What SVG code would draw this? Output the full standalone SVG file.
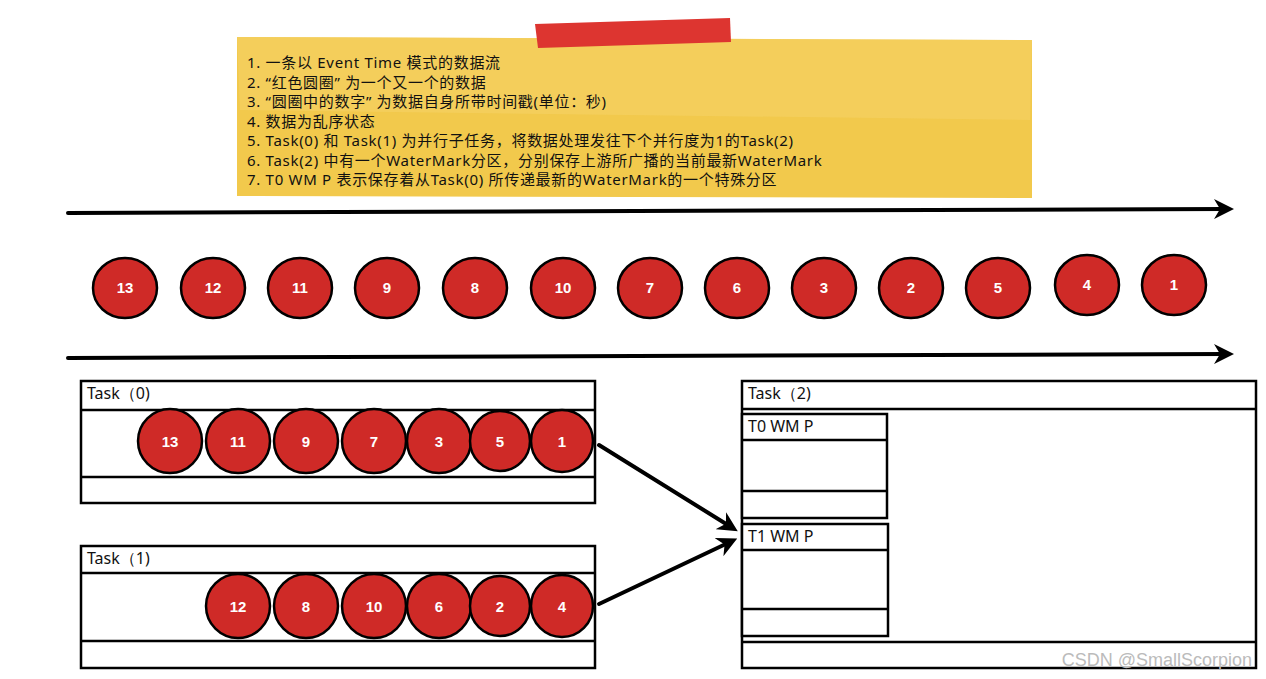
<svg xmlns="http://www.w3.org/2000/svg" width="1266" height="679" viewBox="0 0 1266 679">
<style>
.note{font-family:"Noto Sans","Noto Sans CJK SC",sans-serif;font-size:15px;letter-spacing:0.7px;fill:#111}
.dot{fill:#cf2a27;stroke:#000;stroke-width:2.5}
.num{font-family:"Liberation Sans",Arial,sans-serif;font-size:15px;font-weight:bold;fill:#fff;text-anchor:middle;dominant-baseline:central}
.box{fill:#fff;stroke:#000;stroke-width:2.5}
.lbl{font-family:"Noto Sans","Liberation Sans",sans-serif;font-size:16px;fill:#111}
.conn{fill:none;stroke:#000;stroke-width:4;stroke-linecap:round}
</style>
<defs>
<marker id="ah" viewBox="0 0 10 10" refX="6" refY="5" markerWidth="5" markerHeight="5" orient="auto" markerUnits="strokeWidth">
<path d="M0,0 L10,5 L0,10 L3,5 Z" fill="#000"/>
</marker>
</defs>
<rect width="1266" height="679" fill="#fff"/>
<g id="note">
<polygon points="237,37 1032,40 1032,198 237,196" fill="#f2c94c"/>
<polygon points="237,37 1032,40 1030,120 240,110" fill="#f5d266" opacity="0.6"/>
<polygon points="535,24 730,18 731,42 538,48" fill="#dd3530"/>
<text class="note" x="247" y="68">1. 一条以 Event Time 模式的数据流</text>
<text class="note" x="247" y="88">2. “红色圆圈” 为一个又一个的数据</text>
<text class="note" x="247" y="107">3. “圆圈中的数字” 为数据自身所带时间戳(单位：秒)</text>
<text class="note" x="247" y="127">4. 数据为乱序状态</text>
<text class="note" x="247" y="146">5. Task(0) 和 Task(1) 为并行子任务，将数据处理发往下个并行度为1的Task(2)</text>
<text class="note" x="247" y="166">6. Task(2) 中有一个WaterMark分区，分别保存上游所广播的当前最新WaterMark</text>
<text class="note" x="247" y="185">7. T0 WM P 表示保存着从Task(0) 所传递最新的WaterMark的一个特殊分区</text>
</g>
<g id="stream">
<ellipse class="dot" cx="125" cy="288" rx="32" ry="30"/><text class="num" x="125" y="287">13</text>
<ellipse class="dot" cx="213" cy="288" rx="32" ry="30"/><text class="num" x="213" y="287">12</text>
<ellipse class="dot" cx="300" cy="288" rx="32" ry="30"/><text class="num" x="300" y="287">11</text>
<ellipse class="dot" cx="387" cy="288" rx="32" ry="30"/><text class="num" x="387" y="287">9</text>
<ellipse class="dot" cx="475" cy="288" rx="32" ry="30"/><text class="num" x="475" y="287">8</text>
<ellipse class="dot" cx="563" cy="288" rx="32" ry="30"/><text class="num" x="563" y="287">10</text>
<ellipse class="dot" cx="650" cy="288" rx="32" ry="30"/><text class="num" x="650" y="287">7</text>
<ellipse class="dot" cx="737" cy="288" rx="32" ry="30"/><text class="num" x="737" y="287">6</text>
<ellipse class="dot" cx="824" cy="288" rx="32" ry="30"/><text class="num" x="824" y="287">3</text>
<ellipse class="dot" cx="911" cy="288" rx="32" ry="30"/><text class="num" x="911" y="287">2</text>
<ellipse class="dot" cx="998" cy="288" rx="32" ry="30"/><text class="num" x="998" y="287">5</text>
<ellipse class="dot" cx="1087" cy="285" rx="32" ry="30"/><text class="num" x="1087" y="284">4</text>
<ellipse class="dot" cx="1174" cy="285" rx="32" ry="30"/><text class="num" x="1174" y="284">1</text>
</g>
<g id="task0">
<rect class="box" x="81" y="381" width="514" height="122"/>
<line x1="81" y1="410" x2="595" y2="410" stroke="#000" stroke-width="2.5"/>
<line x1="81" y1="477" x2="595" y2="477" stroke="#000" stroke-width="2.5"/>
<text class="lbl" x="87" y="399">Task（0)</text>
<circle class="dot" cx="170" cy="441" r="32"/><text class="num" x="170" y="441">13</text>
<circle class="dot" cx="238" cy="441" r="32"/><text class="num" x="238" y="441">11</text>
<circle class="dot" cx="306" cy="441" r="32"/><text class="num" x="306" y="441">9</text>
<circle class="dot" cx="374" cy="441" r="32"/><text class="num" x="374" y="441">7</text>
<circle class="dot" cx="439" cy="441" r="32"/><text class="num" x="439" y="441">3</text>
<circle class="dot" cx="500" cy="441" r="30"/><text class="num" x="500" y="441">5</text>
<circle class="dot" cx="562" cy="441" r="31"/><text class="num" x="562" y="441">1</text>
</g>
<g id="task1">
<rect class="box" x="81" y="546" width="514" height="122"/>
<line x1="81" y1="573" x2="595" y2="573" stroke="#000" stroke-width="2.5"/>
<line x1="81" y1="641" x2="595" y2="641" stroke="#000" stroke-width="2.5"/>
<text class="lbl" x="87" y="564">Task（1)</text>
<circle class="dot" cx="238" cy="606" r="32"/><text class="num" x="238" y="606">12</text>
<circle class="dot" cx="306" cy="606" r="32"/><text class="num" x="306" y="606">8</text>
<circle class="dot" cx="374" cy="606" r="32"/><text class="num" x="374" y="606">10</text>
<circle class="dot" cx="439" cy="606" r="32"/><text class="num" x="439" y="606">6</text>
<circle class="dot" cx="500" cy="606" r="30"/><text class="num" x="500" y="606">2</text>
<circle class="dot" cx="562" cy="606" r="31"/><text class="num" x="562" y="606">4</text>
</g>
<g id="task2">
<rect class="box" x="742" y="381" width="514" height="287"/>
<line x1="742" y1="409" x2="1256" y2="409" stroke="#000" stroke-width="2.5"/>
<line x1="742" y1="642" x2="1256" y2="642" stroke="#000" stroke-width="2.5"/>
<text class="lbl" x="748" y="399">Task（2)</text>
</g>
<g id="t0wmp">
<rect class="box" x="742" y="414" width="145" height="104"/>
<line x1="742" y1="440" x2="887" y2="440" stroke="#000" stroke-width="2.5"/>
<line x1="742" y1="491" x2="887" y2="491" stroke="#000" stroke-width="2.5"/>
<text class="lbl" x="748" y="432">T0 WM P</text>
</g>
<g id="t1wmp">
<rect class="box" x="742" y="524" width="146" height="112"/>
<line x1="742" y1="550" x2="888" y2="550" stroke="#000" stroke-width="2.5"/>
<line x1="742" y1="609" x2="888" y2="609" stroke="#000" stroke-width="2.5"/>
<text class="lbl" x="748" y="542">T1 WM P</text>
</g>
<g id="connectors">
<line class="conn" x1="68" y1="213" x2="1226" y2="209" marker-end="url(#ah)"/>
<line class="conn" x1="68" y1="358" x2="1226" y2="354" marker-end="url(#ah)"/>
<line class="conn" x1="599" y1="445" x2="731" y2="527" marker-end="url(#ah)"/>
<line class="conn" x1="599" y1="604" x2="730" y2="542" marker-end="url(#ah)"/>
</g>
<text x="1252" y="666" text-anchor="end" font-family="Liberation Sans,Arial,sans-serif" font-size="18" fill="#bbb">CSDN @SmallScorpion</text>
</svg>
